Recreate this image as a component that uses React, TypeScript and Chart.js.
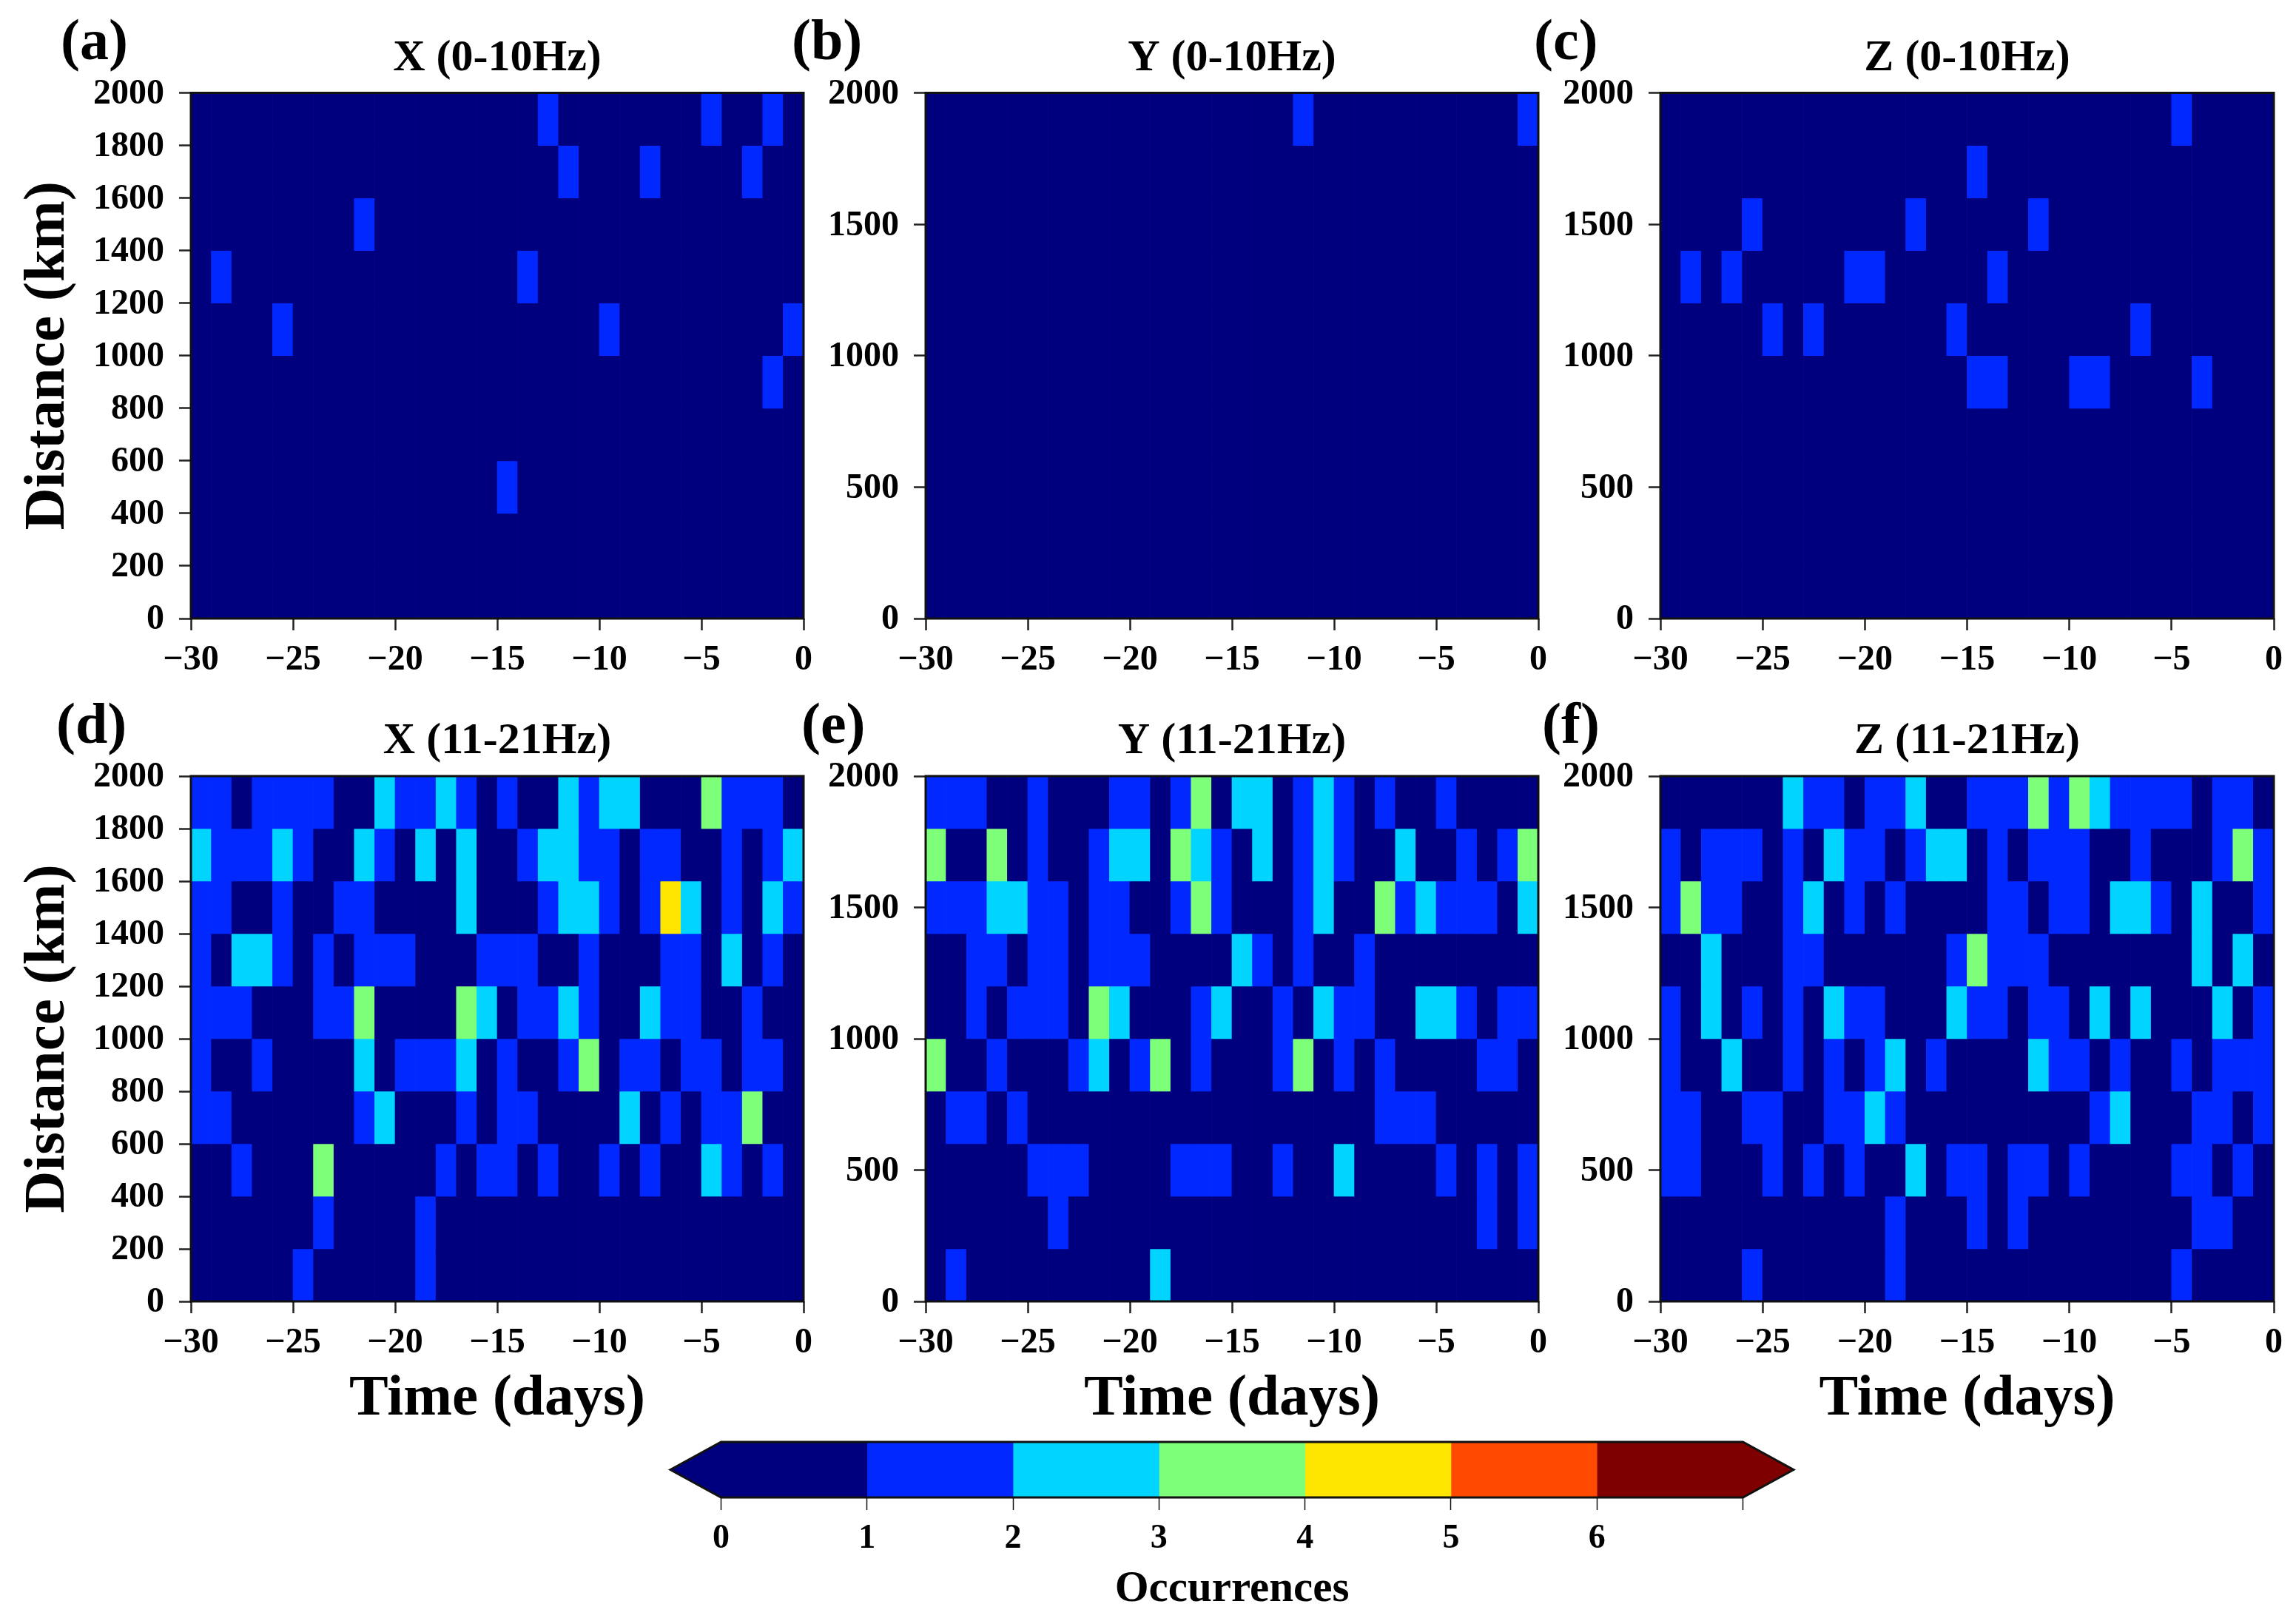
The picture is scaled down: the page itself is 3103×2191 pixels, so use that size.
import React, { useEffect, useRef } from "react";
import { Chart, registerables } from "chart.js";

Chart.register(...registerables);

// Row order: top of the plot (1800-2000 km) down to bottom (0-200 km). 30 daily bins from -30 to 0.
const panelA = [
  [0,0,0,0,0,0,0,0,0,0, 0,0,0,0,0,0,0,1,0,0, 0,0,0,0,0,1,0,0,1,0],
  [0,0,0,0,0,0,0,0,0,0, 0,0,0,0,0,0,0,0,1,0, 0,0,1,0,0,0,0,1,0,0],
  [0,0,0,0,0,0,0,0,1,0, 0,0,0,0,0,0,0,0,0,0, 0,0,0,0,0,0,0,0,0,0],
  [0,1,0,0,0,0,0,0,0,0, 0,0,0,0,0,0,1,0,0,0, 0,0,0,0,0,0,0,0,0,0],
  [0,0,0,0,1,0,0,0,0,0, 0,0,0,0,0,0,0,0,0,0, 1,0,0,0,0,0,0,0,0,1],
  [0,0,0,0,0,0,0,0,0,0, 0,0,0,0,0,0,0,0,0,0, 0,0,0,0,0,0,0,0,1,0],
  [0,0,0,0,0,0,0,0,0,0, 0,0,0,0,0,0,0,0,0,0, 0,0,0,0,0,0,0,0,0,0],
  [0,0,0,0,0,0,0,0,0,0, 0,0,0,0,0,1,0,0,0,0, 0,0,0,0,0,0,0,0,0,0],
  [0,0,0,0,0,0,0,0,0,0, 0,0,0,0,0,0,0,0,0,0, 0,0,0,0,0,0,0,0,0,0],
  [0,0,0,0,0,0,0,0,0,0, 0,0,0,0,0,0,0,0,0,0, 0,0,0,0,0,0,0,0,0,0],
];
const panelB = [
  [0,0,0,0,0,0,0,0,0,0, 0,0,0,0,0,0,0,0,1,0, 0,0,0,0,0,0,0,0,0,1],
  [0,0,0,0,0,0,0,0,0,0, 0,0,0,0,0,0,0,0,0,0, 0,0,0,0,0,0,0,0,0,0],
  [0,0,0,0,0,0,0,0,0,0, 0,0,0,0,0,0,0,0,0,0, 0,0,0,0,0,0,0,0,0,0],
  [0,0,0,0,0,0,0,0,0,0, 0,0,0,0,0,0,0,0,0,0, 0,0,0,0,0,0,0,0,0,0],
  [0,0,0,0,0,0,0,0,0,0, 0,0,0,0,0,0,0,0,0,0, 0,0,0,0,0,0,0,0,0,0],
  [0,0,0,0,0,0,0,0,0,0, 0,0,0,0,0,0,0,0,0,0, 0,0,0,0,0,0,0,0,0,0],
  [0,0,0,0,0,0,0,0,0,0, 0,0,0,0,0,0,0,0,0,0, 0,0,0,0,0,0,0,0,0,0],
  [0,0,0,0,0,0,0,0,0,0, 0,0,0,0,0,0,0,0,0,0, 0,0,0,0,0,0,0,0,0,0],
  [0,0,0,0,0,0,0,0,0,0, 0,0,0,0,0,0,0,0,0,0, 0,0,0,0,0,0,0,0,0,0],
  [0,0,0,0,0,0,0,0,0,0, 0,0,0,0,0,0,0,0,0,0, 0,0,0,0,0,0,0,0,0,0],
];
const panelC = [
  [0,0,0,0,0,0,0,0,0,0, 0,0,0,0,0,0,0,0,0,0, 0,0,0,0,0,1,0,0,0,0],
  [0,0,0,0,0,0,0,0,0,0, 0,0,0,0,0,1,0,0,0,0, 0,0,0,0,0,0,0,0,0,0],
  [0,0,0,0,1,0,0,0,0,0, 0,0,1,0,0,0,0,0,1,0, 0,0,0,0,0,0,0,0,0,0],
  [0,1,0,1,0,0,0,0,0,1, 1,0,0,0,0,0,1,0,0,0, 0,0,0,0,0,0,0,0,0,0],
  [0,0,0,0,0,1,0,1,0,0, 0,0,0,0,1,0,0,0,0,0, 0,0,0,1,0,0,0,0,0,0],
  [0,0,0,0,0,0,0,0,0,0, 0,0,0,0,0,1,1,0,0,0, 1,1,0,0,0,0,1,0,0,0],
  [0,0,0,0,0,0,0,0,0,0, 0,0,0,0,0,0,0,0,0,0, 0,0,0,0,0,0,0,0,0,0],
  [0,0,0,0,0,0,0,0,0,0, 0,0,0,0,0,0,0,0,0,0, 0,0,0,0,0,0,0,0,0,0],
  [0,0,0,0,0,0,0,0,0,0, 0,0,0,0,0,0,0,0,0,0, 0,0,0,0,0,0,0,0,0,0],
  [0,0,0,0,0,0,0,0,0,0, 0,0,0,0,0,0,0,0,0,0, 0,0,0,0,0,0,0,0,0,0],
];
const panelD = [
  [1,1,0,1,1,1,1,0,0,2, 1,1,2,1,0,1,0,0,2,1, 2,2,0,0,0,3,1,1,1,0],
  [2,1,1,1,2,1,0,0,2,1, 0,2,0,2,0,0,1,2,2,1, 1,0,1,1,0,0,1,0,1,2],
  [1,1,0,0,1,0,0,1,1,0, 0,0,0,2,0,0,0,1,2,2, 1,0,1,4,2,0,1,0,2,1],
  [1,0,2,2,1,0,1,0,1,1, 1,0,0,0,1,1,1,0,0,1, 0,0,0,1,1,0,2,0,1,0],
  [1,1,1,0,0,0,1,1,3,0, 0,0,0,3,2,0,1,1,2,1, 0,0,2,1,1,0,0,1,0,0],
  [1,0,0,1,0,0,0,0,2,0, 1,1,1,2,0,1,0,0,1,3, 0,1,1,0,1,1,0,1,1,0],
  [1,1,0,0,0,0,0,0,1,2, 0,0,0,1,0,1,1,0,0,0, 0,2,0,1,0,1,1,3,0,0],
  [0,0,1,0,0,0,3,0,0,0, 0,0,1,0,1,1,0,1,0,0, 1,0,1,0,0,2,1,0,1,0],
  [0,0,0,0,0,0,1,0,0,0, 0,1,0,0,0,0,0,0,0,0, 0,0,0,0,0,0,0,0,0,0],
  [0,0,0,0,0,1,0,0,0,0, 0,1,0,0,0,0,0,0,0,0, 0,0,0,0,0,0,0,0,0,0],
];
const panelE = [
  [1,1,1,0,0,1,0,0,0,1, 1,0,1,3,0,2,2,0,1,2, 1,0,1,0,0,1,0,0,0,0],
  [3,0,0,3,0,1,0,0,1,2, 2,0,3,2,1,0,2,0,1,2, 1,0,0,2,0,0,1,0,1,3],
  [1,1,1,2,2,1,1,0,1,1, 0,0,1,3,1,0,0,0,1,2, 0,0,3,1,2,1,1,1,0,2],
  [0,0,1,1,0,1,1,0,1,1, 1,0,0,0,0,2,1,0,1,0, 0,1,0,0,0,0,0,0,0,0],
  [0,0,1,0,1,1,1,0,3,2, 0,0,0,1,2,0,0,1,0,2, 1,1,0,0,2,2,1,0,1,1],
  [3,0,0,1,0,0,0,1,2,0, 1,3,0,1,0,0,0,1,3,0, 1,0,1,0,0,0,0,1,1,0],
  [0,1,1,0,1,0,0,0,0,0, 0,0,0,0,0,0,0,0,0,0, 0,0,1,1,1,0,0,0,0,0],
  [0,0,0,0,0,1,1,1,0,0, 0,0,1,1,1,0,0,1,0,0, 2,0,0,0,0,1,0,1,0,1],
  [0,0,0,0,0,0,1,0,0,0, 0,0,0,0,0,0,0,0,0,0, 0,0,0,0,0,0,0,1,0,1],
  [0,1,0,0,0,0,0,0,0,0, 0,2,0,0,0,0,0,0,0,0, 0,0,0,0,0,0,0,0,0,0],
];
const panelF = [
  [0,0,0,0,0,0,2,1,1,0, 1,1,2,0,0,1,1,1,3,1, 3,2,1,1,1,1,0,1,1,0],
  [1,0,1,1,1,0,1,0,2,1, 1,0,1,2,2,0,1,0,1,1, 1,0,0,1,0,0,0,1,3,1],
  [1,3,1,1,0,0,1,2,0,1, 0,1,0,0,0,0,1,1,0,1, 1,0,2,2,1,0,2,0,0,1],
  [0,0,2,0,0,0,1,1,0,0, 0,0,0,0,1,3,1,1,1,0, 0,0,0,0,0,0,2,0,2,0],
  [1,0,2,0,1,0,1,0,2,1, 1,0,0,0,2,1,1,0,1,1, 0,2,0,2,0,0,0,2,0,1],
  [1,0,0,2,0,0,1,0,1,0, 1,2,0,1,0,0,0,0,2,1, 1,0,1,0,0,1,0,1,1,1],
  [1,1,0,0,1,1,0,0,1,1, 2,1,0,0,0,0,0,0,0,0, 0,1,2,0,0,0,1,1,0,1],
  [1,1,0,0,0,1,0,1,0,1, 0,0,2,0,1,1,0,1,1,0, 1,0,0,0,0,1,1,0,1,0],
  [0,0,0,0,0,0,0,0,0,0, 0,1,0,0,0,1,0,1,0,0, 0,0,0,0,0,0,1,1,0,0],
  [0,0,0,0,1,0,0,0,0,0, 0,1,0,0,0,0,0,0,0,0, 0,0,0,0,0,1,0,0,0,0],
];

const levelColors = ["#00007F", "#0028FF", "#00D4FF", "#7DFF7A", "#FFE600", "#FF4A00", "#7F0000"];
const colorbarTicks = [0, 1, 2, 3, 4, 5, 6, 7];
const colorbarLabels = ["0", "1", "2", "3", "4", "5", "6", ""];
const xTickValues = [-30, -25, -20, -15, -10, -5, 0];
const rowHeightKm = 200;
const SERIF = "'Liberation Serif', 'Times New Roman', serif";

type PanelSpec = {
  letter: string; title: string; rows: number[][]; yStep: number;
  l: number; r: number; t: number; b: number;
  canvasLeft: number; canvasTop: number; xHeight: number;
  letterX: number; letterY: number; yTitle: boolean; xTitle: boolean;
};

const TOP = { t: 125.5, b: 836, canvasTop: 0, xHeight: 80, letterY: 60 };
const BOT = { t: 1049, b: 1759, canvasTop: 930, xHeight: 180, letterY: 984 };
const COLS = [
  { l: 258, r: 1086, canvasLeft: 0 },
  { l: 1251, r: 2079, canvasLeft: 1050 },
  { l: 2244, r: 3073, canvasLeft: 2050 },
];

const panels: PanelSpec[] = [
  { letter: "(a)", title: "X (0-10Hz)", rows: panelA, yStep: 200, ...COLS[0], ...TOP, letterX: 82, yTitle: true, xTitle: false },
  { letter: "(b)", title: "Y (0-10Hz)", rows: panelB, yStep: 500, ...COLS[1], ...TOP, letterX: 1070, yTitle: false, xTitle: false },
  { letter: "(c)", title: "Z (0-10Hz)", rows: panelC, yStep: 500, ...COLS[2], ...TOP, letterX: 2073, yTitle: false, xTitle: false },
  { letter: "(d)", title: "X (11-21Hz)", rows: panelD, yStep: 200, ...COLS[0], ...BOT, letterX: 76, yTitle: true, xTitle: true },
  { letter: "(e)", title: "Y (11-21Hz)", rows: panelE, yStep: 500, ...COLS[1], ...BOT, letterX: 1083, yTitle: false, xTitle: true },
  { letter: "(f)", title: "Z (11-21Hz)", rows: panelF, yStep: 500, ...COLS[2], ...BOT, letterX: 2084, yTitle: false, xTitle: true },
];

const font = (size: number) => ({ family: SERIF, size, weight: "bold" as const, lineHeight: 1.2 });
const TITLE_SIZE = 60;
const TITLE_PAD = 10.5;
const TICK_SIZE = 48;
const PAD_LEFT = 18;
const PAD_RIGHT = 30;

function Panel({ spec }: { spec: PanelSpec }) {
  const ref = useRef<HTMLCanvasElement | null>(null);
  const width = spec.r - spec.canvasLeft + PAD_RIGHT;
  const height = Math.ceil(spec.b + spec.xHeight - spec.canvasTop);
  useEffect(() => {
    const datasets = spec.rows.map((row, ri) => {
      const low = (spec.rows.length - 1 - ri) * rowHeightKm;
      return {
        data: row.map((v, ci) => ({ x: -29.5 + ci, y: [low, low + rowHeightKm], v })),
        backgroundColor: (c: any) => levelColors[c.raw ? c.raw.v : 0],
        borderWidth: 0,
        barPercentage: 1,
        categoryPercentage: 1,
        grouped: false,
      };
    });
    const frame = {
      id: "frame",
      afterDraw(chart: any) {
        const { ctx, chartArea: a } = chart;
        ctx.save();
        ctx.strokeStyle = "#111";
        ctx.lineWidth = 3;
        ctx.strokeRect(a.left, a.top, a.right - a.left, a.bottom - a.top);
        ctx.font = `bold 78px ${SERIF}`;
        ctx.fillStyle = "#000";
        ctx.textBaseline = "middle";
        ctx.textAlign = "left";
        ctx.fillText(spec.letter, spec.letterX - spec.canvasLeft, spec.letterY - spec.canvasTop);
        ctx.restore();
      },
    };
    const chart = new Chart(ref.current as HTMLCanvasElement, {
      type: "bar",
      data: { datasets } as any,
      plugins: [frame],
      options: {
        animation: false,
        responsive: false,
        maintainAspectRatio: false,
        layout: {
          padding: {
            left: PAD_LEFT,
            right: PAD_RIGHT,
            top: spec.t - spec.canvasTop - (TITLE_SIZE * 1.2 + TITLE_PAD),
            bottom: 0,
          },
        },
        plugins: {
          legend: { display: false },
          tooltip: { enabled: false },
          title: {
            display: true,
            text: spec.title,
            color: "#000",
            font: font(TITLE_SIZE),
            fullSize: false,
            padding: { top: 0, bottom: TITLE_PAD },
          },
        },
        scales: {
          x: {
            type: "linear",
            min: -30,
            max: 0,
            offset: false,
            afterBuildTicks: (s: any) => { s.ticks = xTickValues.map((value) => ({ value })); },
            afterFit: (s: any) => { s.height = spec.xHeight; s.paddingLeft = 0; s.paddingRight = 0; },
            grid: { offset: false, drawOnChartArea: false, tickLength: 16, tickWidth: 2.5, tickColor: "#222" },
            border: { display: false },
            ticks: {
              autoSkip: false, maxRotation: 0, minRotation: 0, padding: 12, color: "#000", font: font(TICK_SIZE),
              callback: (v: any) => (Number(v) < 0 ? "\u2212" + Math.abs(Number(v)) : String(v)),
            },
            title: { display: spec.xTitle, text: "Time (days)", color: "#000", font: font(79), padding: { top: 0, bottom: 0 } },
          },
          y: {
            type: "linear",
            min: 0,
            max: 2000,
            afterFit: (s: any) => { s.width = spec.l - spec.canvasLeft - PAD_LEFT; s.paddingTop = 0; s.paddingBottom = 0; },
            grid: { drawOnChartArea: false, tickLength: 16, tickWidth: 2.5, tickColor: "#222" },
            border: { display: false },
            ticks: {
              stepSize: spec.yStep, autoSkip: false, padding: 20, labelOffset: 2, color: "#000", font: font(TICK_SIZE),
              callback: (v: any) => String(v),
            },
            title: { display: spec.yTitle, text: "Distance (km)", color: "#000", font: font(79), padding: { top: 0, bottom: 0 } },
          },
        },
      } as any,
    });
    return () => chart.destroy();
  }, [spec]);
  return (
    <canvas
      ref={ref}
      width={width}
      height={height}
      style={{ position: "absolute", left: spec.canvasLeft, top: spec.canvasTop, width, height }}
    />
  );
}

const BAR = { left: 880, top: 1930, width: 1570, height: 261, plotTop: 1949, plotBottom: 2024, tipLeft: 906, tipRight: 2424 };
const TIP = 0.347;
const OVERLAP = 0.02;

function Colorbar() {
  const ref = useRef<HTMLCanvasElement | null>(null);
  useEffect(() => {
    const last = colorbarTicks[colorbarTicks.length - 1];
    const shape = {
      id: "shape",
      afterDatasetsDraw(chart: any) {
        const { ctx, chartArea: a, scales } = chart;
        const x = scales.x;
        const mid = (a.top + a.bottom) / 2;
        ctx.save();
        // Arrow tips, overlapping the first and last bars so that no seam shows
        ctx.fillStyle = levelColors[0];
        ctx.beginPath();
        ctx.moveTo(x.getPixelForValue(-TIP), mid);
        ctx.lineTo(x.getPixelForValue(0), a.top);
        ctx.lineTo(x.getPixelForValue(OVERLAP), a.top);
        ctx.lineTo(x.getPixelForValue(OVERLAP), a.bottom);
        ctx.lineTo(x.getPixelForValue(0), a.bottom);
        ctx.closePath();
        ctx.fill();
        ctx.fillStyle = levelColors[levelColors.length - 1];
        ctx.beginPath();
        ctx.moveTo(x.getPixelForValue(last + TIP), mid);
        ctx.lineTo(x.getPixelForValue(last), a.top);
        ctx.lineTo(x.getPixelForValue(last - OVERLAP), a.top);
        ctx.lineTo(x.getPixelForValue(last - OVERLAP), a.bottom);
        ctx.lineTo(x.getPixelForValue(last), a.bottom);
        ctx.closePath();
        ctx.fill();
        // Outline
        ctx.beginPath();
        ctx.moveTo(x.getPixelForValue(-TIP), mid);
        ctx.lineTo(x.getPixelForValue(0), a.top);
        ctx.lineTo(x.getPixelForValue(last), a.top);
        ctx.lineTo(x.getPixelForValue(last + TIP), mid);
        ctx.lineTo(x.getPixelForValue(last), a.bottom);
        ctx.lineTo(x.getPixelForValue(0), a.bottom);
        ctx.closePath();
        ctx.strokeStyle = "#111";
        ctx.lineWidth = 3;
        ctx.stroke();
        ctx.restore();
      },
    };
    const chart = new Chart(ref.current as HTMLCanvasElement, {
      type: "bar",
      data: {
        labels: ["Occurrences"],
        datasets: levelColors.map((color, i) => ({
          data: [[colorbarTicks[i], colorbarTicks[i + 1]]],
          backgroundColor: color,
          borderWidth: 0,
          barPercentage: 1,
          categoryPercentage: 1,
          grouped: false,
        })),
      } as any,
      plugins: [shape],
      options: {
        indexAxis: "y",
        animation: false,
        responsive: false,
        maintainAspectRatio: false,
        layout: {
          padding: {
            left: BAR.tipLeft - BAR.left,
            right: BAR.left + BAR.width - BAR.tipRight,
            top: BAR.plotTop - BAR.top,
            bottom: 0,
          },
        },
        plugins: { legend: { display: false }, tooltip: { enabled: false }, title: { display: false } },
        scales: {
          x: {
            type: "linear",
            min: -TIP,
            max: last + TIP,
            afterBuildTicks: (s: any) => { s.ticks = colorbarTicks.map((value) => ({ value })); },
            afterFit: (s: any) => { s.height = BAR.top + BAR.height - BAR.plotBottom; s.paddingLeft = 0; s.paddingRight = 0; },
            grid: { drawOnChartArea: false, tickLength: 17, tickWidth: 1.5, tickColor: "#111" },
            border: { display: false },
            ticks: {
              autoSkip: false, maxRotation: 0, minRotation: 0, padding: 12, color: "#000", font: font(46),
              callback: (v: any) => colorbarLabels[colorbarTicks.indexOf(Number(v))] ?? "",
            },
            title: { display: true, text: "Occurrences", color: "#000", font: font(59), padding: { top: 0, bottom: 7 } },
          },
          y: { type: "category", display: false, offset: true },
        },
      } as any,
    });
    return () => chart.destroy();
  }, []);
  return (
    <canvas
      ref={ref}
      width={BAR.width}
      height={BAR.height}
      style={{ position: "absolute", left: BAR.left, top: BAR.top, width: BAR.width, height: BAR.height }}
    />
  );
}

export default function App() {
  return (
    <div style={{ position: "absolute", left: 0, top: 0, width: 3103, height: 2191, background: "#fff", overflow: "hidden" }}>
      {panels.map((p) => <Panel key={p.letter} spec={p} />)}
      <Colorbar />
    </div>
  );
}
